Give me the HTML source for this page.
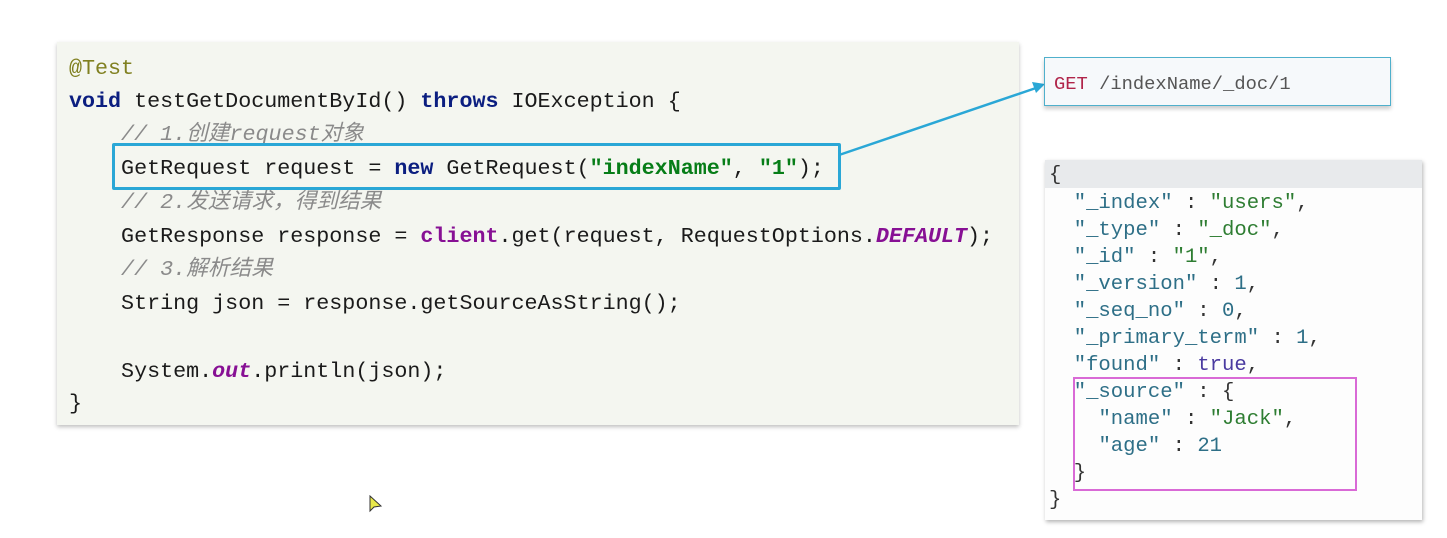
<!DOCTYPE html>
<html><head><meta charset="utf-8"><style>
body{margin:0;width:1447px;height:538px;background:#fff;position:relative;overflow:hidden;font-family:"Liberation Mono","Noto Sans CJK SC",monospace}
.code{position:absolute;left:57px;top:42px;width:962px;height:383px;background:#f4f6f0;box-shadow:0 2px 4px rgba(0,0,0,.25)}
.l{position:absolute;left:12px;font-size:21.7px;white-space:pre;color:#1a1a1a;line-height:26px}
.kw{color:#0b1e80;font-weight:bold}.an{color:#808020}.cm{color:#8a8a8a;font-style:italic}.st{color:#067d17;font-weight:bold}.pu{color:#871094;font-weight:bold}.it{color:#871094;font-style:italic;font-weight:bold}
.hl{position:absolute;left:112px;top:143px;width:723px;height:41px;border:3px solid #2aa7d6;border-radius:2px}
.get{position:absolute;left:1044px;top:57px;width:347px;height:49px;background:#f6f9fb;border:1.5px solid #4fb0cc;box-shadow:0 3px 4px rgba(0,0,0,.2);font-size:18.8px;line-height:52px;padding-left:9px;box-sizing:border-box;color:#555}
.json{position:absolute;left:1045px;top:160px;width:377px;height:360px;background:#fdfdfd;box-shadow:1px 2px 4px rgba(0,0,0,.3)}
.jh{position:absolute;left:0;top:0;width:377px;height:28px;background:#e8eaec}
.j{position:absolute;font-size:20.6px;white-space:pre;color:#333;line-height:27px}
.k{color:#2e6f87}.s{color:#2e7d32}.n{color:#2e6f87}.b{color:#4a3aa0}
.pk{position:absolute;left:1073px;top:377px;width:280px;height:110px;border:2px solid #d96ad6}
</style></head><body>
<div class="code">
<div class="l an" style="top:14px">@Test</div>
<div class="l" style="top:47px"><span class="kw">void</span> testGetDocumentById() <span class="kw">throws</span> IOException {</div>
<div class="l cm" style="top:80px">    // 1.创建request对象</div>
<div class="l" style="top:114px">    GetRequest request = <span class="kw">new</span> GetRequest(<span class="st">"indexName"</span>, <span class="st">"1"</span>);</div>
<div class="l cm" style="top:148px">    // 2.发送请求，得到结果</div>
<div class="l" style="top:182px">    GetResponse response = <span class="pu">client</span>.get(request, RequestOptions.<span class="it">DEFAULT</span>);</div>
<div class="l cm" style="top:215px">    // 3.解析结果</div>
<div class="l" style="top:249px">    String json = response.getSourceAsString();</div>
<div class="l" style="top:317px">    System.<span class="it">out</span>.println(json);</div>
<div class="l" style="top:349px">}</div>
</div>
<div class="hl"></div>
<svg style="position:absolute;left:0;top:0" width="1447" height="538">
<line x1="839" y1="155" x2="1036" y2="88" stroke="#2aa7d6" stroke-width="2.5"/>
<polygon points="1045,84 1032,82 1036,93" fill="#2aa7d6"/>
</svg>
<div class="get"><span style="color:#b0254a">GET</span> /indexName/_doc/1</div>
<div class="json"><div class="jh"></div>
<div class="j" style="left:4px;top:2px">{</div>
<div class="j" style="left:4px;top:30px">  <span class="k">"_index"</span> : <span class="s">"users"</span>,
  <span class="k">"_type"</span> : <span class="s">"_doc"</span>,
  <span class="k">"_id"</span> : <span class="s">"1"</span>,
  <span class="k">"_version"</span> : <span class="n">1</span>,
  <span class="k">"_seq_no"</span> : <span class="n">0</span>,
  <span class="k">"_primary_term"</span> : <span class="n">1</span>,
  <span class="k">"found"</span> : <span class="b">true</span>,
  <span class="k">"_source"</span> : {
    <span class="k">"name"</span> : <span class="s">"Jack"</span>,
    <span class="k">"age"</span> : <span class="n">21</span>
  }
}</div>
</div>
<div class="pk"></div>
<svg style="position:absolute;left:369px;top:495px" width="14" height="20"><polygon points="1,1 1,16 5,12 12,11" fill="#e8e84a" stroke="#333" stroke-width="1"/></svg>
</body></html>
